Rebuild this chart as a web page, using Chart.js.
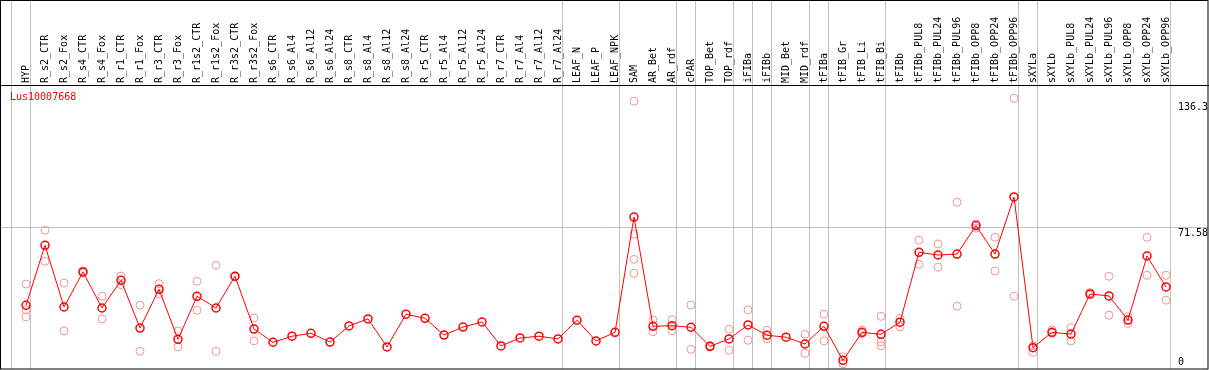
<!DOCTYPE html>
<html>
<head>
<meta charset="utf-8">
<script src="https://cdn.jsdelivr.net/npm/chart.js@4/dist/chart.umd.min.js"></script>
<style>
  body { margin: 0; background: #fff; }
  canvas { display: block; }
</style>
</head>
<body>
<canvas id="exprChart" width="1209" height="370"></canvas>
<script>
// gene shown in the plot
const geneName = 'Lus10007668';

const samples = ['HYP', 'R_s2_CTR', 'R_s2_Fox', 'R_s4_CTR', 'R_s4_Fox', 'R_r1_CTR', 'R_r1_Fox',
  'R_r3_CTR', 'R_r3_Fox', 'R_r1s2_CTR', 'R_r1s2_Fox', 'R_r3s2_CTR', 'R_r3s2_Fox',
  'R_s6_CTR', 'R_s6_Al4', 'R_s6_Al12', 'R_s6_Al24', 'R_s8_CTR', 'R_s8_Al4', 'R_s8_Al12', 'R_s8_Al24',
  'R_r5_CTR', 'R_r5_Al4', 'R_r5_Al12', 'R_r5_Al24', 'R_r7_CTR', 'R_r7_Al4', 'R_r7_Al12', 'R_r7_Al24',
  'LEAF_N', 'LEAF_P', 'LEAF_NPK', 'SAM', 'AR_Bet', 'AR_rdf', 'cPAR', 'TOP_Bet', 'TOP_rdf',
  'iFIBa', 'iFIBb', 'MID_Bet', 'MID_rdf', 'tFIBa', 'tFIB_Gr', 'tFIB_Li', 'tFIB_Bi', 'tFIBb',
  'tFIBb_PUL8', 'tFIBb_PUL24', 'tFIBb_PUL96', 'tFIBb_OPP8', 'tFIBb_OPP24', 'tFIBb_OPP96',
  'sXYLa', 'sXYLb', 'sXYLb_PUL8', 'sXYLb_PUL24', 'sXYLb_PUL96', 'sXYLb_OPP8', 'sXYLb_OPP24', 'sXYLb_OPP96'];

const means = [31.7, 62.5, 30.8, 48.8, 30.3, 44.5, 20.0, 39.9, 14.2, 36.3, 30.3, 46.6, 19.5,
  12.7, 15.8, 17.3, 12.8, 21.1, 24.7, 10.3, 27.1, 25.0, 16.4, 20.5, 23.1, 10.8, 14.9, 15.8, 14.4,
  24.0, 13.4, 17.8, 77.0, 20.9, 21.2, 20.4, 10.6, 14.4, 21.6, 16.3, 15.3, 11.8, 20.9, 3.4, 17.8,
  16.8, 23.0, 58.9, 57.5, 58.0, 72.6, 58.0, 87.3, 9.9, 17.8, 16.9, 37.5, 36.5, 24.1, 57.0, 41.1];

const replicates = [
  [42.6, 29.3, 25.7], [70.2, 54.3], [43.1, 18.5], [49.3, 48.3], [36.3, 24.7], [46.7, 42.3],
  [31.7, 8.1], [42.8, 37.5], [18.5, 10.3], [44.0, 29.1], [52.2, 8.1], [46.7, 46.2], [25.2, 13.4],
  [], [], [], [], [], [], [], [], [], [], [], [], [], [], [], [], [], [], [],
  [136.5, 68.2, 55.3, 48.1], [24.1, 18.1], [24.3, 18.6], [31.8, 9.1], [10.9, 10.3], [19.4, 8.6],
  [29.3, 13.7], [18.8, 14.5], [], [16.8, 7.0], [27.1, 13.4], [5.3, 1.7], [19.0, 17.2],
  [26.0, 12.8, 10.9], [25.0, 20.7], [65.1, 52.7], [63.2, 51.2], [84.6, 31.2], [73.4, 71.4],
  [66.6, 49.3], [138.0, 36.3], [10.9, 7.5], [19.0, 17.3], [20.2, 13.4], [38.2, 37.0],
  [46.6, 26.6], [25.8, 22.4], [66.6, 47.1], [47.1, 34.3]];

const yTicks = [0, 71.58, 136.3];

// grey group lines sit just right of these sample indexes
const separatorsAfter = [-1, 0, 28, 31, 34, 35, 37, 38, 39, 41, 42, 45, 52, 53, 60];

const monoFont = 'DejaVu Sans Mono, Liberation Mono, monospace';
const xMin = -1.316, xMax = 62.21;
const yMin = -1.03, yMax = 144.8;

const meanPoints = means.map((v, i) => ({ x: i, y: v }));
const repPoints = [];
replicates.forEach((reps, i) => reps.forEach(v => repPoints.push({ x: i, y: v })));

// no extra room for labels at the ends of an axis
function noPadding(s) {
  s.paddingLeft = 0;
  s.paddingRight = 0;
  s.paddingTop = 0;
  s.paddingBottom = 0;
}

// frame, gene name and the right hand value labels
const framePlugin = {
  id: 'frame',
  afterDraw(chart) {
    const ctx = chart.ctx;
    const area = chart.chartArea;
    const yScale = chart.scales.y;
    ctx.save();
    ctx.strokeStyle = '#000';
    ctx.lineWidth = 1;
    ctx.strokeRect(0.5, 0.5, chart.width - 1.5, area.bottom - 0.5);
    ctx.beginPath();
    ctx.moveTo(0, area.top + 0.5);
    ctx.lineTo(chart.width, area.top + 0.5);
    ctx.stroke();

    ctx.font = '10px ' + monoFont;
    ctx.fillStyle = '#ff0000';
    ctx.textAlign = 'left';
    ctx.textBaseline = 'middle';
    ctx.fillText(geneName, 10, area.top + 12);

    ctx.fillStyle = '#000';
    yTicks.forEach((v, i) => {
      const py = yScale.getPixelForValue(v);
      ctx.textBaseline = i === 0 ? 'bottom' : 'top';
      ctx.fillText(String(v), 1178, i === 0 ? py : py + 1);
    });
    ctx.restore();
  }
};

const ctx = document.getElementById('exprChart').getContext('2d');
const exprChart = new Chart(ctx, {
  type: 'scatter',
  data: {
    datasets: [{
      label: 'mean',
      data: meanPoints,
      showLine: true,
      borderColor: '#ff0000',
      borderWidth: 1,
      pointRadius: 4,
      pointBorderWidth: 1.5,
      pointBorderColor: '#ff0000',
      pointBackgroundColor: 'rgba(0,0,0,0)',
      order: 0
    }, {
      label: 'replicates',
      data: repPoints,
      showLine: false,
      pointRadius: 4,
      pointBorderWidth: 1,
      pointBorderColor: '#f09696',
      pointBackgroundColor: 'rgba(0,0,0,0)',
      order: 1
    }]
  },
  options: {
    responsive: false,
    animation: false,
    layout: { autoPadding: false, padding: { left: 1, right: 1, top: 0, bottom: 1 } },
    plugins: {
      legend: { display: false },
      tooltip: { enabled: false }
    },
    scales: {
      x: {
        type: 'linear',
        position: 'top',
        weight: 1,
        min: xMin,
        max: xMax,
        afterBuildTicks: s => { s.ticks = samples.map((_, i) => ({ value: i })); },
        afterFit: s => { s.height = 85; noPadding(s); },
        ticks: {
          autoSkip: false,
          minRotation: 90,
          maxRotation: 90,
          padding: 2,
          labelOffset: 12,
          color: '#000',
          font: { family: monoFont, size: 10 },
          callback: v => samples[v]
        },
        grid: { display: false, drawTicks: false },
        border: { display: false }
      },
      xSep: {
        type: 'linear',
        position: 'top',
        weight: 0,
        min: xMin,
        max: xMax,
        afterBuildTicks: s => { s.ticks = separatorsAfter.map(i => ({ value: i + 0.24 })); },
        afterFit: s => { s.height = 0; noPadding(s); },
        ticks: { display: false },
        grid: { color: '#c0c0c0', lineWidth: 1, drawTicks: true, tickLength: 85 },
        border: { display: false }
      },
      y: {
        type: 'linear',
        position: 'right',
        min: yMin,
        max: yMax,
        afterBuildTicks: s => { s.ticks = yTicks.map(v => ({ value: v })); },
        afterFit: s => { s.width = 0; noPadding(s); },
        ticks: { display: false },
        grid: {
          drawTicks: false,
          color: c => (c.tick && c.tick.value > 0 && c.tick.value < 100) ? '#c0c0c0' : 'rgba(0,0,0,0)'
        },
        border: { display: false }
      }
    }
  },
  plugins: [framePlugin]
});
</script>
</body>
</html>
